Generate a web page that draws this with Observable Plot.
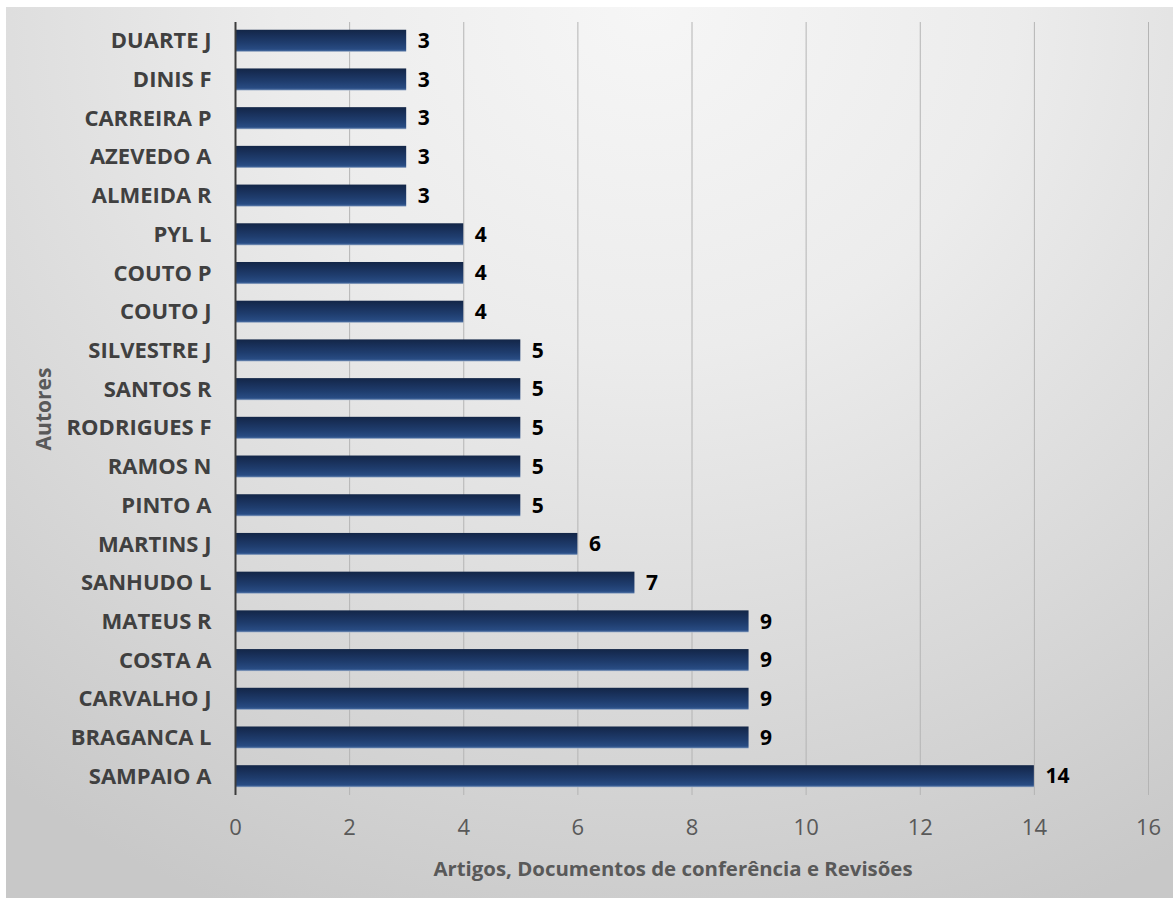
<!DOCTYPE html>
<html>
<head>
<meta charset="utf-8">
<script src="https://cdn.jsdelivr.net/npm/d3@7"></script>
<script src="https://cdn.jsdelivr.net/npm/@observablehq/plot@0.6"></script>
<style>
  html, body { margin: 0; padding: 0; background: #ffffff; }
  #wrap { position: relative; width: 1173px; height: 898px; overflow: hidden; background: #ffffff; }
  #bg {
    position: absolute; left: 6px; top: 7px; right: 0; bottom: 0;
    background: radial-gradient(ellipse 90% 110% at 55% 0%, #f6f6f6 0%, #ececec 35%, #d9d9d9 70%, #c8c8c8 100%);
  }
  #chart { position: absolute; left: 0; top: 0; }
  #chart svg { background: transparent; overflow: visible; }
</style>
</head>
<body>
<div id="wrap">
  <div id="bg"></div>
  <div id="chart"></div>
</div>
<script>
// Authors, top to bottom
const authors = [
  "DUARTE J", "DINIS F", "CARREIRA P", "AZEVEDO A", "ALMEIDA R",
  "PYL L", "COUTO P", "COUTO J", "SILVESTRE J", "SANTOS R",
  "RODRIGUES F", "RAMOS N", "PINTO A", "MARTINS J", "SANHUDO L",
  "MATEUS R", "COSTA A", "CARVALHO J", "BRAGANCA L", "SAMPAIO A"
];
// Number of articles, conference papers and reviews per author
const counts = [
  3, 3, 3, 3, 3,
  4, 4, 4, 5, 5,
  5, 5, 5, 6, 7,
  9, 9, 9, 9, 14
];
const xTicks = [0, 2, 4, 6, 8, 10, 12, 14, 16];
const xTitle = "Artigos, Documentos de conferência e Revisões";
const yTitle = "Autores";

const rows = authors.map((name, i) => ({name, count: counts[i]}));
const font = "'Open Sans', Lato, sans-serif";

const chart = Plot.plot({
  width: 1173,
  height: 898,
  marginLeft: 235,
  marginRight: 25,
  marginTop: 22,
  marginBottom: 103,
  style: {fontFamily: font, background: "transparent"},
  x: {domain: [0, 16], ticks: xTicks},
  y: {domain: authors, paddingInner: 0.43, paddingOuter: 0.2, round: false},
  marks: [
    Plot.gridX(xTicks.slice(1), {stroke: "#b4b4b4", strokeOpacity: 1, strokeWidth: 1}),
    Plot.barX(rows, {x: "count", y: "name", fill: "url(#barGrad)"}),
    Plot.ruleX([0], {stroke: "#3c3c3c", strokeWidth: 2}),
    Plot.text(rows, {
      x: "count", y: "name", text: d => String(d.count),
      dx: 11, textAnchor: "start", fill: "#000000",
      fontSize: 21, fontWeight: "bold"
    }),
    Plot.axisX(xTicks, {
      tickSize: 0, tickPadding: 24, fontSize: 22, fill: "#595959",
      label: null
    }),
    Plot.axisY({
      tickSize: 0, tickPadding: 24, fontSize: 22, fontWeight: "bold",
      fill: "#404040", label: null
    }),
    Plot.text([xTitle], {
      frameAnchor: "bottom", textAnchor: "middle", lineAnchor: "middle",
      dx: -19, dy: 74, fontSize: 20.4, fontWeight: "bold", fill: "#595959"
    }),
    Plot.text([yTitle], {
      frameAnchor: "left", textAnchor: "middle", lineAnchor: "middle",
      dx: -191, rotate: -90, fontSize: 21, fontWeight: "bold", fill: "#595959"
    })
  ]
});

// Vertical shading for the bars
const defs = d3.create("svg:defs");
const grad = defs.append("linearGradient")
  .attr("id", "barGrad").attr("x1", 0).attr("y1", 0).attr("x2", 0).attr("y2", 1);
[
  [0, "#132647"], [0.25, "#182f58"], [0.6, "#1f3d6e"],
  [0.88, "#284b82"], [0.94, "#3b5f95"], [1, "#a7b6cc"]
].forEach(([o, c]) => grad.append("stop").attr("offset", o).attr("stop-color", c));
chart.insertBefore(defs.node(), chart.firstChild);

document.getElementById("chart").appendChild(chart);
</script>
</body>
</html>
